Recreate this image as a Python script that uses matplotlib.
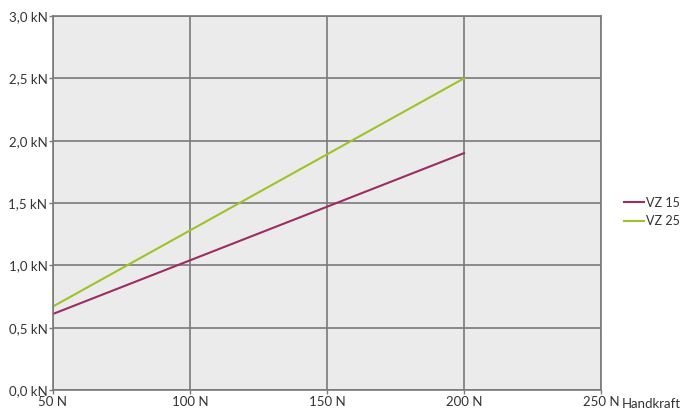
import matplotlib
matplotlib.use("Agg")
import matplotlib.pyplot as plt

x_vals = [50, 200]
vz15 = [0.61, 1.9]
vz25 = [0.67, 2.5]
series_names = ["VZ 15", "VZ 25"]
x_ticks = [50, 100, 150, 200, 250]
x_labels = ["50 N", "100 N", "150 N", "200 N", "250 N"]
y_ticks = [0.0, 0.5, 1.0, 1.5, 2.0, 2.5, 3.0]
y_labels = ["0,0 kN", "0,5 kN", "1,0 kN", "1,5 kN", "2,0 kN", "2,5 kN", "3,0 kN"]

plt.rcParams['font.family'] = ['Lato', 'DejaVu Sans']
fig = plt.figure(figsize=(6.84, 4.11), dpi=100)
ax = fig.add_axes([53/684, 21/411, 548/684, 374/411])
ax.set_facecolor("#ebebeb")
c15 = "#9b2d62"
c25 = "#9ec32a"
ax.plot(x_vals, vz15, color=c15, lw=1.5, label=series_names[0])
ax.plot(x_vals, vz25, color=c25, lw=1.5, label=series_names[1])
ax.set_xlim(50, 250)
ax.set_ylim(0, 3.0)
ax.set_xticks(x_ticks)
ax.set_xticklabels(x_labels)
ax.set_yticks(y_ticks)
ax.set_yticklabels(y_labels)
ax.grid(True, color="#7a7a7a", lw=1.2)
ax.set_axisbelow(True)
for s in ax.spines.values():
    s.set_color("#7a7a7a")
    s.set_linewidth(1.2)
ax.tick_params(axis="both", colors="#7a7a7a", labelcolor="#333333", labelsize=9.5, length=3, width=1, pad=1)
ax.text(1.038, -0.022, "Handkraft", transform=ax.transAxes, ha="left", va="top", fontsize=9.5, color="#333333")
leg = fig.legend(loc="center left", bbox_to_anchor=(624/684, 1 - 212/411), frameon=False,
                 fontsize=9, handlelength=1.6, handletextpad=0.15, labelspacing=0.55,
                 borderpad=0, borderaxespad=0, labelcolor="#333333")
fig.savefig("out.png", dpi=100)
